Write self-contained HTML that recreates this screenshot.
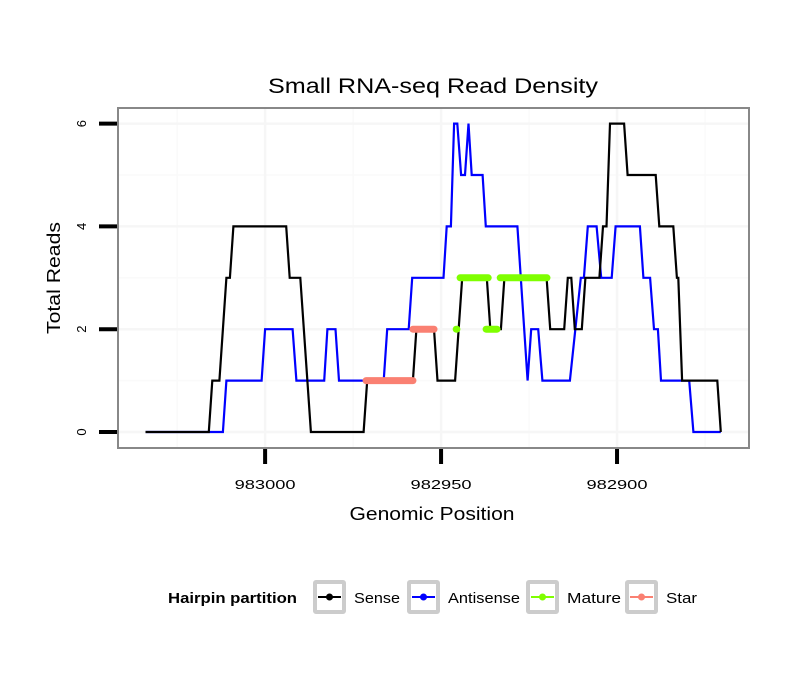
<!DOCTYPE html>
<html><head><meta charset="utf-8"><style>
body{margin:0;background:#fff;}
svg text{font-family:"Liberation Sans",Arial,sans-serif;}
</style></head><body>
<svg id="chart" width="810" height="690" xmlns="http://www.w3.org/2000/svg">
<rect width="810" height="690" fill="#fff"/>
<g id="grid"></g>
<g id="series"></g>
<rect x="118" y="108" width="631" height="340" fill="none" stroke="#888" stroke-width="2"/>
<g id="axes"></g>
<text x="433" y="93" font-size="21" text-anchor="middle" textLength="330" lengthAdjust="spacingAndGlyphs">Small RNA-seq Read Density</text>
<text x="432" y="520" font-size="18" text-anchor="middle" textLength="165" lengthAdjust="spacingAndGlyphs">Genomic Position</text>
<text transform="translate(60,278) rotate(-90)" font-size="18" text-anchor="middle" textLength="112" lengthAdjust="spacingAndGlyphs">Total Reads</text>
<g id="legend">
<text x="168" y="603" font-size="15" font-weight="bold" textLength="129" lengthAdjust="spacingAndGlyphs">Hairpin partition</text>
</g>
</svg>
<script>
const xTicks=[983000,982950,982900];
const yTicks=[0,2,4,6];
const senseX=[983034,983016,983015,983013,983011,983010,983009,982994,982993,982990,982987,982972,982971,982958,982957,982952,982951,982946,982944,982937,982936,982933,982932,982920,982919,982915,982914,982913,982912,982910,982909,982905,982904,982903,982902,982898,982897,982889,982888,982884,982883,982882.6,982881.5,982871.5,982870.5];
const senseY=[0,0,1,1,3,3,4,4,3,3,0,0,1,1,2,2,1,1,3,3,2,2,3,3,2,2,3,3,2,2,3,3,4,4,6,6,5,5,4,4,3,3,1,1,0];
const antiX=[983034,983012,983011,983001,983000,982992.2,982991.1,982983.2,982982.3,982980,982979,982966.3,982965.3,982959.2,982958.2,982949.3,982948.4,982947.2,982946.3,982945.4,982944.3,982943.2,982942.2,982941.3,982938.2,982937.3,982928.3,982925.4,982924.4,982922.4,982921.2,982913.4,982910.3,982909.4,982908.3,982905.8,982904.5,982901.5,982900.4,982893.5,982892.5,982890.6,982889.5,982888.4,982887.5,982879.5,982878.3,982870.5];
const antiY=[0,0,1,1,2,2,1,1,2,2,1,1,2,2,3,3,4,4,6,6,5,5,6,5,5,4,4,1,2,2,1,1,3,3,4,4,3,3,4,4,3,3,2,2,1,1,0,0];
const matureStart=[982945.7,982944.6,982937.2,982933.2];
const matureEnd=[982945.5,982936.6,982934.1,982919.9];
const matureY=[2,3,2,3];
const starStart=[982971.3,982958];
const starEnd=[982958,982952];
const starY=[1,2];
const legendLabels=["Sense","Antisense","Mature","Star"];
const legendColors=["#000","#0000ff","#7fff00","#fa8072"];

const NS="http://www.w3.org/2000/svg";
const X0=118,X1=749,D0=983041.8,D1=982862.5;
function sx(v){return X0+(v-D0)/(D1-D0)*(X1-X0);}
function sy(v){return 432-v*51.4;}
function mk(tag,attrs,parent){const e=document.createElementNS(NS,tag);for(const k in attrs)e.setAttribute(k,attrs[k]);parent.appendChild(e);return e;}
const grid=document.getElementById('grid'),axes=document.getElementById('axes'),series=document.getElementById('series'),legend=document.getElementById('legend');
for(let i=0;i<xTicks.length+1;i++){const v=xTicks[0]+25-50*i;const x=sx(v);if(x>X0&&x<X1){const l=mk('line',{x1:x,x2:x,y1:108,y2:448,stroke:'#fafafa','stroke-width':1.5},grid);

}}
for(let i=0;i<yTicks.length;i++){const v=yTicks[i]+1;const y=sy(v);if(y>108){const l=mk('line',{x1:X0,x2:X1,y1:y,y2:y,stroke:'#fafafa','stroke-width':1.5},grid);

}}
xTicks.forEach(v=>{const x=sx(v);const g=mk('line',{x1:x,x2:x,y1:108,y2:448,stroke:'#f6f6f6','stroke-width':2.5},grid);


const t=mk('line',{x1:x,x2:x,y1:449,y2:464,stroke:'#000','stroke-width':4},axes);


const lb=mk('text',{x:x,y:489,'font-size':13,'text-anchor':'middle',textLength:61,lengthAdjust:'spacingAndGlyphs'},axes);lb.textContent=v;

});
yTicks.forEach(v=>{const y=sy(v);const g=mk('line',{x1:X0,x2:X1,y1:y,y2:y,stroke:'#f6f6f6','stroke-width':2.5},grid);


const t=mk('line',{x1:99,x2:117,y1:y,y2:y,stroke:'#000','stroke-width':4},axes);


const lb=mk('text',{transform:`translate(86,${y}) rotate(-90)`,'font-size':13,'text-anchor':'middle'},axes);lb.textContent=v;

});
function path(xs,ys,color,name){const d=xs.map((v,i)=>(i?'L':'M')+sx(v).toFixed(1)+','+sy(ys[i]).toFixed(1)).join('');const p=mk('path',{d:d,fill:'none',stroke:color,'stroke-width':2.2,'stroke-linejoin':'miter'},series);

}
path(antiX,antiY,'#0000ff','antisense-line');
path(senseX,senseY,'#000','sense-line');
function segs(s,e,ys,color,name){s.forEach((v,i)=>{const l=mk('line',{x1:sx(v),x2:sx(e[i]),y1:sy(ys[i]),y2:sy(ys[i]),stroke:color,'stroke-width':7,'stroke-linecap':'round'},series);

});}
segs(starStart,starEnd,starY,'#fa8072','star-segment');
segs(matureStart,matureEnd,matureY,'#7fff00','mature-segment');
const boxX=[313,407,526,625];
const labW=[46,72,54,31];
legendLabels.forEach((lab,i)=>{const bx=boxX[i];const g=mk('g',{},legend);


mk('rect',{x:bx+2,y:582,width:29,height:30,fill:'#fff',stroke:'#cccccc','stroke-width':4,rx:1},g);
mk('line',{x1:bx+5,x2:bx+28,y1:597,y2:597,stroke:legendColors[i],'stroke-width':2},g);
mk('circle',{cx:bx+16.5,cy:597,r:3.5,fill:legendColors[i]},g);
const t=mk('text',{x:bx+41,y:603,'font-size':15,textLength:labW[i],lengthAdjust:'spacingAndGlyphs'},g);t.textContent=lab;});
</script>
</body></html>
